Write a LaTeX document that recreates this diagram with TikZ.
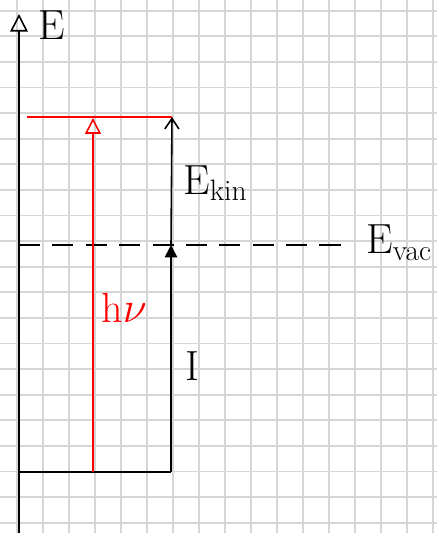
\documentclass[tikz,border=0pt]{standalone}
\usetikzlibrary{arrows.meta, positioning}
\definecolor{gridgray}{RGB}{214,214,214}
\definecolor{photonred}{RGB}{255,0,0}

\begin{document}
\begin{tikzpicture}[
    x=0.02cm, y=-0.02cm,
    gridline/.style={draw=gridgray, line width=1pt},
    levelline/.style={draw=black, line width=0.9pt},
    photonline/.style={draw=photonred, line width=0.9pt},
    lbl/.style={font=\fontsize{24}{24}\selectfont, inner sep=0pt}
]
\useasboundingbox (0,0) rectangle (437,533);
\fill[white] (0,0) rectangle (437,533);

% squared paper
\foreach \i in {0,...,16}
    \draw[gridline] ({16.7+26*\i},0) -- ({16.7+26*\i},533);
\foreach \j in {0,...,20}
    \draw[gridline] (0,{10.7+25.6*\j}) -- (437,{10.7+25.6*\j});

% energy levels
\coordinate (axbot) at (19,533);
\coordinate (axtop) at (19,14);
\coordinate (ground) at (19,472);
\coordinate (groundend) at (171,472);
\coordinate (vacstart) at (19,245);
\coordinate (vac) at (171,245);
\coordinate (vacend) at (345,245);
\coordinate (kinstart) at (27,117);
\coordinate (kin) at (172,117);
\coordinate (photonbot) at (93,472);
\coordinate (photontop) at (93,118);

\draw[levelline, -{Triangle[open, length=10pt, width=10pt]}] (axbot) -- (axtop);
\node[lbl] (elabel) at (52,25) {E};

\draw[levelline] (ground) -- (groundend);
\draw[levelline, dash pattern=on 12pt off 7pt] (vacstart) -- (vacend);
\node[lbl, anchor=west] (evac) at (366,243) {E\textsubscript{vac}};

\draw[photonline] (kinstart) -- (kin);
\draw[photonline, -{Triangle[open, length=9pt, width=9pt]}] (photonbot) -- (photontop);
\node[lbl, text=photonred, anchor=west] (hnu) at (101,308) {h$\nu$};

\draw[levelline, -{Triangle[length=7pt, width=7pt]}] (groundend) -- (vac);
\node[lbl] (ion) at (192,366) {I};

\draw[levelline, -{Straight Barb[length=6pt, width=8pt]}] (vac) -- (kin);
\node[lbl, anchor=west] (ekin) at (183,183) {E\textsubscript{kin}};
\end{tikzpicture}
\end{document}
